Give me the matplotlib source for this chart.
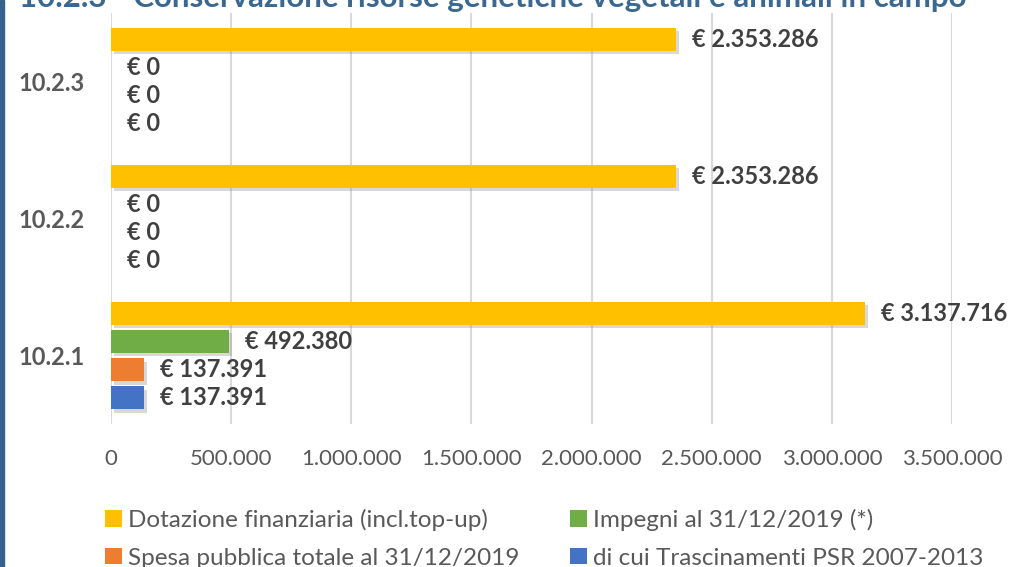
import matplotlib
matplotlib.use("Agg")
import matplotlib.pyplot as plt
from matplotlib.patches import Rectangle
import matplotlib.patheffects as pe

plt.rcParams['font.family'] = ['Lato', 'DejaVu Sans']

title = "10.2.3 - Conservazione risorse genetiche vegetali e animali in campo"
categories = ['10.2.1', '10.2.2', '10.2.3']
series_names = ['Dotazione finanziaria (incl.top-up)', 'Impegni al 31/12/2019 (*)',
                'Spesa pubblica totale al 31/12/2019', 'di cui Trascinamenti PSR 2007-2013']
dotazione = [3137716, 2353286, 2353286]
impegni = [492380, 0, 0]
spesa = [137391, 0, 0]
trascinamenti = [137391, 0, 0]
series_values = [dotazione, impegni, spesa, trascinamenti]
colors = ['#FFC000', '#70AD47', '#ED7D31', '#4472C4']
xticks = [0, 500000, 1000000, 1500000, 2000000, 2500000, 3000000, 3500000]

def fmt(v):
    return f"{v:,.0f}".replace(",", ".")

W, H = 1012, 567
fig = plt.figure(figsize=(W / 100, H / 100), dpi=100)
ax = fig.add_axes([111 / W, 1 - 424 / H, (952 - 111) / W, (424 - 13) / H])

step = 0.205
bh = 0.168
offsets = [1.5 * step, 0.5 * step, -0.5 * step, -1.5 * step]
shadow = [pe.withSimplePatchShadow(offset=(2, -2.5), shadow_rgbFace='#808080', alpha=0.3)]
for vals, col, off in zip(series_values, colors, offsets):
    ys = [i + off for i in range(len(categories))]
    bars = ax.barh(ys, vals, height=bh, color=col, zorder=3)
    for b in bars:
        if b.get_width() > 0:
            b.set_path_effects(shadow)
    for y, v in zip(ys, vals):
        ax.annotate(f"€ {fmt(v)}", xy=(v, y), xytext=(11.5, 0), textcoords='offset points',
                    ha='left', va='center', fontsize=17, fontweight='bold', color='#404040', zorder=4)

ax.set_xlim(0, 3500000)
ax.set_ylim(-0.5, 2.5)
ax.set_xticks(xticks)
ax.set_xticklabels([fmt(t) for t in xticks], fontsize=16, color='#595959')
ax.set_yticks(range(len(categories)))
ax.set_yticklabels(categories, fontsize=17, fontweight='bold', color='#595959')
ax.tick_params(axis='both', length=0)
ax.tick_params(axis='x', pad=18)
ax.tick_params(axis='y', pad=19)
ax.grid(axis='x', color='#D9D9D9', linewidth=1.5, zorder=0)
ax.set_axisbelow(True)
for s in ax.spines.values():
    s.set_visible(False)

# left page border
fig.add_artist(Rectangle((0, 0), 4 / W, 1, transform=fig.transFigure, color='#35618C', zorder=5))
fig.text(0.487, 1 - 7 / H, title, ha='center', va='baseline', fontsize=22.5,
         fontweight='bold', color='#3A6890')

legend_cols = [([0, 2], 105), ([1, 3], 570)]
for idxs, x0 in legend_cols:
    handles = [Rectangle((0, 0), 1, 1, facecolor=colors[i], edgecolor='none') for i in idxs]
    labels = [series_names[i] for i in idxs]
    leg = fig.legend(handles, labels, loc='upper left',
                     bbox_to_anchor=(x0 / W, 1 - 509 / H), frameon=False,
                     fontsize=17.5, handlelength=0.68, handleheight=0.68, handletextpad=0.27,
                     labelspacing=0.68, borderpad=0, borderaxespad=0)
    for t in leg.get_texts():
        t.set_color('#595959')

fig.savefig('out.png', dpi=100, facecolor='white')
